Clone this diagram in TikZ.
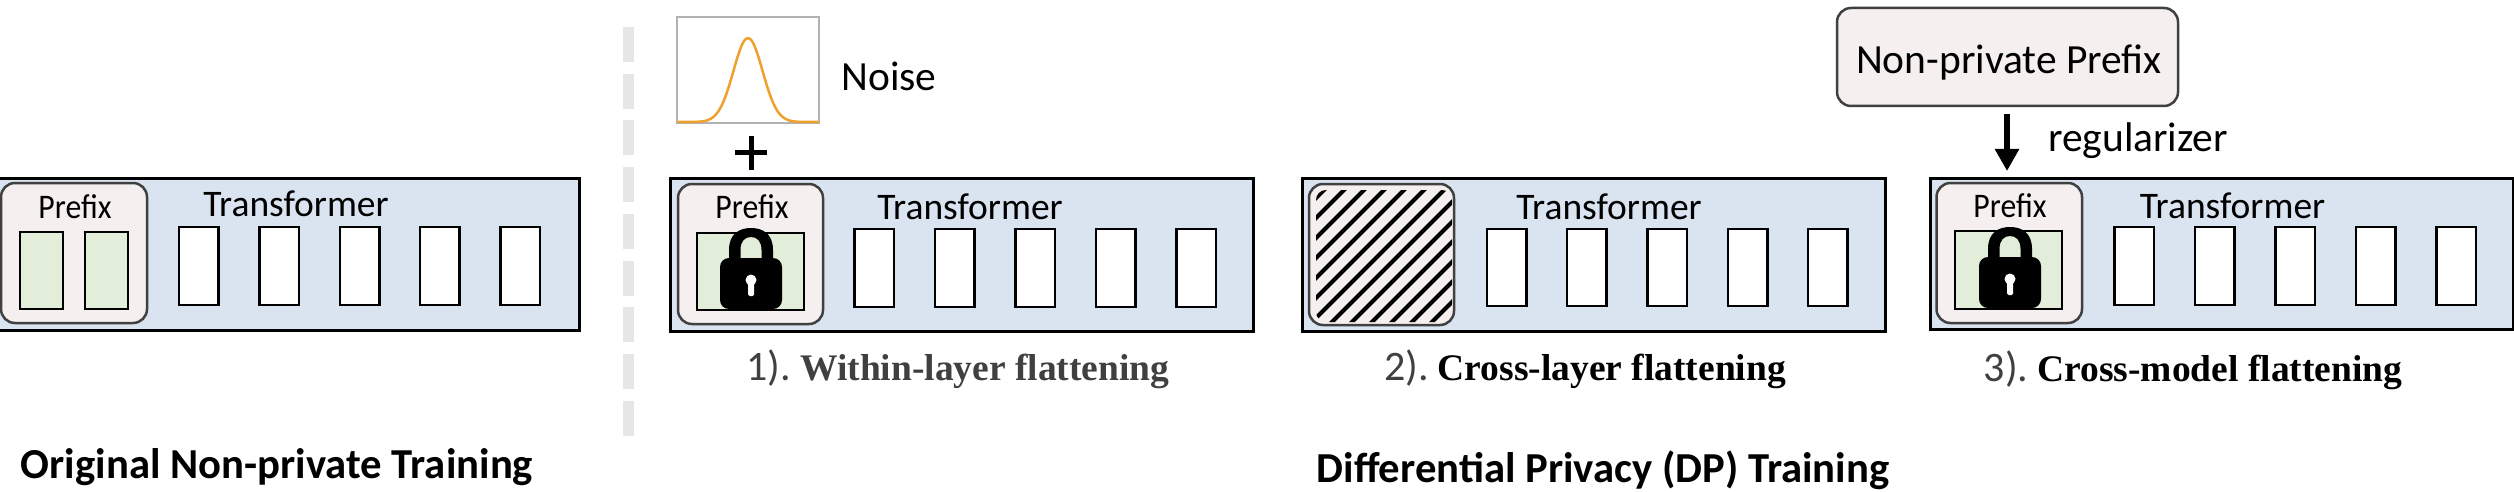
\documentclass[tikz,border=0pt]{standalone}
\usepackage{fontspec}
\setmainfont{Carlito}
\newfontfamily\capfont{Liberation Serif}
\newfontfamily\prefont[FakeStretch=0.92]{Carlito}
\definecolor{panelblue}{HTML}{DAE3F0}
\definecolor{prefixfill}{HTML}{F5F0EF}
\definecolor{layergreen}{HTML}{E2EDDA}
\definecolor{prefixedge}{HTML}{404040}
\definecolor{noiseorange}{HTML}{F0A02C}
\definecolor{dashgrey}{HTML}{E6E6E6}
\definecolor{capgrey}{HTML}{404040}
\newcommand{\boxat}[6]{\node[#6,minimum width={(#4-#2)*1pt},minimum height={(#5-#3)*1pt}] (#1) at ({(#2+#4)/2},{(#3+#5)/2}) {};}
\newcommand{\capnum}[1]{{\fontsize{42}{44}\selectfont #1}}
\newcommand{\captxt}[1]{{\capfont\fontsize{37.5}{42}\selectfont\bfseries #1}}
\newcommand{\lockicon}[2]{%
 \begin{scope}[shift={(#1,#2)}]
 \fill[black] (-22,31) -- (-22,22) .. controls (-22,6) and (-12,0) .. (0,0) .. controls (12,0) and (22,6) .. (22,22) -- (22,31) -- (10.5,31) -- (10.5,22) .. controls (10.5,13) and (6,9) .. (0,9) .. controls (-6,9) and (-10.5,13) .. (-10.5,22) -- (-10.5,31) -- cycle;
 \fill[black,rounded corners=9pt] (-31,30) rectangle (31,81);
 \fill[white] (0,52) circle[radius=5.5pt];
 \fill[white,rounded corners=1.5pt] (-3,52) rectangle (3,68);
 \end{scope}}
\usetikzlibrary{arrows.meta}
\tikzset{
 panel/.style={draw=black,line width=3pt,fill=panelblue,inner sep=0pt,outer sep=0pt},
 prefixbox/.style={draw=prefixedge,line width=2.5pt,fill=prefixfill,rounded corners=14pt,inner sep=0pt,outer sep=0pt},
 greenbox/.style={draw=black,line width=2.5pt,fill=layergreen,inner sep=0pt,outer sep=0pt},
 whitebox/.style={draw=black,line width=2.5pt,fill=white,inner sep=0pt,outer sep=0pt},
 dashbar/.style={fill=dashgrey,inner sep=0pt,outer sep=0pt,minimum width=11pt,minimum height=35pt},
 noisebox/.style={draw=black!30,line width=1.2pt,fill=white,inner sep=0pt,outer sep=0pt},
 prefixlabel/.style={font=\prefont\fontsize{34.5}{36}\selectfont,inner sep=0pt},
 translabel/.style={font=\fontsize{37.5}{42}\selectfont,inner sep=0pt},
 biglabel/.style={font=\fontsize{41.5}{46}\selectfont,inner sep=0pt},
 titlelabel/.style={font=\fontsize{42.7}{48}\selectfont\bfseries,inner sep=0pt},
 caplabel/.style={inner sep=0pt},
 arrowline/.style={line width=6.5pt,-{Triangle[length=22pt,width=23pt]}}
}
\begin{document}
\begin{tikzpicture}[x=1pt,y=-1pt]
\useasboundingbox (0,0) rectangle (2514,492);
% dashed separator
\foreach \i in {0,...,8}{ \node[dashbar] (sep\i) at (628.5,{44.5+46.7*\i}) {}; }
% Panel 0
\boxat{p0}{-3}{178}{579}{330}{panel}
\boxat{p0pre}{1}{183}{147}{323}{prefixbox}
\boxat{p0g1}{20}{232}{63}{309}{greenbox}
\boxat{p0g2}{85}{232}{128}{309}{greenbox}
\boxat{p0w1}{179}{227}{218.5}{305}{whitebox}
\boxat{p0w2}{259.5}{227}{299}{305}{whitebox}
\boxat{p0w3}{340}{227}{379.5}{305}{whitebox}
\boxat{p0w4}{420}{227}{459.5}{305}{whitebox}
\boxat{p0w5}{500.5}{227}{540}{305}{whitebox}
\node[prefixlabel] (p0prefix) at (75,207) {Pref{}ix};
\node[translabel] (p0trans) at (296,204) {Transformer};
\node[titlelabel] (title0) at (277,467) {Original Non-private Training};
% Panel 1
\boxat{noise}{677}{17}{819}{123}{noisebox}
\draw[noiseorange,line width=2.5pt,smooth] plot[domain=677:819,samples=60] (\x,{122-84*exp(-((\x-748)*(\x-748))/(2*14.6*14.6))});
\node[biglabel] (noiselabel) at (889,76) {Noise};
\draw[black,line width=5pt] (735,153) -- (767,153);
\draw[black,line width=5pt] (751,136.5) -- (751,169.5);
\boxat{p1}{670.5}{178.5}{1253}{331}{panel}
\boxat{p1pre}{678}{184}{823}{324}{prefixbox}
\boxat{p1g}{697}{233}{804}{310}{greenbox}
\boxat{p1w1}{854.5}{229}{894}{307}{whitebox}
\boxat{p1w2}{935}{229}{974.5}{307}{whitebox}
\boxat{p1w3}{1015.5}{229}{1055}{307}{whitebox}
\boxat{p1w4}{1096}{229}{1135.5}{307}{whitebox}
\boxat{p1w5}{1176.5}{229}{1216}{307}{whitebox}
\lockicon{751}{228}
\node[prefixlabel] (p1prefix) at (752,207) {Pref{}ix};
\node[translabel] (p1trans) at (970,207) {Transformer};
\node[caplabel] (cap1) at (958,369) {\textcolor{capgrey}{\capnum{1).}\hspace{9pt}\captxt{Within-layer flattening}}};
% Panel 2
\boxat{p2}{1302.5}{178.5}{1885}{331}{panel}
\boxat{p2pre}{1309}{184}{1454}{325}{prefixbox}
\begin{scope}
\clip[rounded corners=10pt] (1316,190) rectangle (1452,322);
\foreach \c in {1326,1346,...,1590}{ \draw[black,line width=4pt] (\c,188) -- (\c-136,324); }
\end{scope}
\boxat{p2w1}{1487}{229}{1526.5}{306}{whitebox}
\boxat{p2w2}{1567}{229}{1606.5}{306}{whitebox}
\boxat{p2w3}{1647.5}{229}{1687}{306}{whitebox}
\boxat{p2w4}{1728}{229}{1767.5}{306}{whitebox}
\boxat{p2w5}{1808}{229}{1847.5}{306}{whitebox}
\node[translabel] (p2trans) at (1609,207) {Transformer};
\node[caplabel] (cap2) at (1585,369) {\textcolor{capgrey}{\capnum{2).}}\hspace{9pt}\captxt{Cross-layer flattening}};
\node[titlelabel] (title1) at (1603,470) {Dif{}ferential Privacy (DP) Training};
% Panel 3
\boxat{np}{1837}{8}{2178}{106}{prefixbox}
\node[biglabel] (nplabel) at (2009,62) {Non-private Pref{}ix};
\coordinate (arrowtop) at (2007,114);
\coordinate (arrowtip) at (2007,171);
\draw[arrowline] (arrowtop) -- (arrowtip);
\node[biglabel] (reglabel) at (2138,141) {regularizer};
\boxat{p3}{1930}{178}{2513}{329}{panel}
\boxat{p3pre}{1936.5}{183}{2082}{323}{prefixbox}
\boxat{p3g}{1955}{231}{2062}{309}{greenbox}
\boxat{p3w1}{2114.5}{227}{2154}{305}{whitebox}
\boxat{p3w2}{2195}{227}{2234.5}{305}{whitebox}
\boxat{p3w3}{2275.5}{227}{2315}{305}{whitebox}
\boxat{p3w4}{2356}{227}{2395.5}{305}{whitebox}
\boxat{p3w5}{2436.5}{227}{2476}{305}{whitebox}
\lockicon{2010}{227}
\node[prefixlabel] (p3prefix) at (2010,206) {Pref{}ix};
\node[translabel] (p3trans) at (2232.5,206) {Transformer};
\node[caplabel] (cap3) at (2193,370) {\textcolor{capgrey}{\capnum{3).}}\hspace{9pt}\captxt{Cross-model flattening}};
\end{tikzpicture}
\end{document}
